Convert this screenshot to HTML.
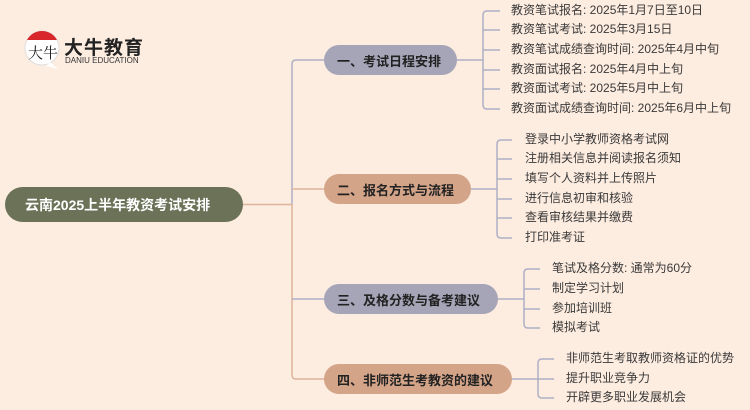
<!DOCTYPE html>
<html><head><meta charset="utf-8"><style>
body{margin:0;width:750px;height:410px;background:#fdece0;position:relative;overflow:hidden;font-family:"Liberation Sans","Noto Sans CJK SC",sans-serif}
.p{position:absolute;border-radius:16px;font-weight:bold;font-size:13px;color:#222;display:flex;align-items:center;box-sizing:border-box;padding-left:13px}
.g{background:#a6a5b8}.t{background:#d4a489}
.l{position:absolute;font-size:12px;color:#3a3a3a;line-height:13px;white-space:nowrap}
</style></head><body>
<svg width="750" height="410" style="position:absolute;left:0;top:0">
<g fill="none" stroke-width="1.5">
<path d="M243 204.5H292" stroke="#deb49c"/>
<path d="M324 60H296Q292 60 292 64V204" stroke="#aeb0c6"/>
<path d="M292 189H324" stroke="#deb49c"/>
<path d="M292 204V375Q292 379 296 379H324" stroke="#deb49c"/>
<path d="M292 299H324" stroke="#aeb0c6"/>
<path d="M457 60H483M500 11H487Q483 11 483 15V105Q483 109 487 109H500M483 30H500M483 50H500M483 70H500M483 89H500" stroke="#aeb0c6"/>
<path d="M471 189H497M512 140H501Q497 140 497 144V234Q497 238 501 238H512M497 159H512M497 179H512M497 199H512M497 218H512" stroke="#aeb0c6"/>
<path d="M498 299H524M540 269H528Q524 269 524 273V324Q524 328 528 328H540M524 289H540M524 309H540" stroke="#aeb0c6"/>
<path d="M512 379H538M554 359H542Q538 359 538 363V394Q538 398 542 398H554M538 379H554" stroke="#aeb0c6"/>
</g>
<circle cx="42" cy="48" r="17" fill="#fff" stroke="#ddd"/>
<path d="M27 40A17 17 0 0 1 57 40Z" fill="#d8262a"/>
<path d="M50 62l8 7-12-3z" fill="#fff"/>
<text x="28" y="58" font-size="15" font-family="Noto Serif CJK SC,serif" fill="#222">大牛</text>
</svg>
<div style="position:absolute;left:64px;top:33px;font-size:19px;font-weight:bold;color:#222;letter-spacing:1px">大牛教育</div>
<div style="position:absolute;left:65px;top:56px;font-size:8px;color:#333">DANIU EDUCATION</div>
<div class="p" style="left:5px;top:187px;width:238px;height:35px;border-radius:18px;background:#6b7258;color:#fff;font-size:14px;padding-left:20px">云南2025上半年教资考试安排</div>
<div class="p g" style="left:324px;top:45px;width:133px;height:30px">一、考试日程安排</div>
<div class="p t" style="left:324px;top:174px;width:147px;height:30px">二、报名方式与流程</div>
<div class="p g" style="left:324px;top:284px;width:174px;height:30px">三、及格分数与备考建议</div>
<div class="p t" style="left:324px;top:364px;width:188px;height:30px">四、非师范生考教资的建议</div>
<div class="l" style="left:511px;top:4px">教资笔试报名: 2025年1月7日至10日</div>
<div class="l" style="left:511px;top:23px">教资笔试考试: 2025年3月15日</div>
<div class="l" style="left:511px;top:43px">教资笔试成绩查询时间: 2025年4月中旬</div>
<div class="l" style="left:511px;top:63px">教资面试报名: 2025年4月中上旬</div>
<div class="l" style="left:511px;top:82px">教资面试考试: 2025年5月中上旬</div>
<div class="l" style="left:511px;top:102px">教资面试成绩查询时间: 2025年6月中上旬</div>
<div class="l" style="left:525px;top:133px">登录中小学教师资格考试网</div>
<div class="l" style="left:525px;top:152px">注册相关信息并阅读报名须知</div>
<div class="l" style="left:525px;top:172px">填写个人资料并上传照片</div>
<div class="l" style="left:525px;top:192px">进行信息初审和核验</div>
<div class="l" style="left:525px;top:211px">查看审核结果并缴费</div>
<div class="l" style="left:525px;top:231px">打印准考证</div>
<div class="l" style="left:552px;top:262px">笔试及格分数: 通常为60分</div>
<div class="l" style="left:552px;top:282px">制定学习计划</div>
<div class="l" style="left:552px;top:302px">参加培训班</div>
<div class="l" style="left:552px;top:321px">模拟考试</div>
<div class="l" style="left:566px;top:352px">非师范生考取教师资格证的优势</div>
<div class="l" style="left:566px;top:372px">提升职业竞争力</div>
<div class="l" style="left:566px;top:391px">开辟更多职业发展机会</div>
</body></html>
